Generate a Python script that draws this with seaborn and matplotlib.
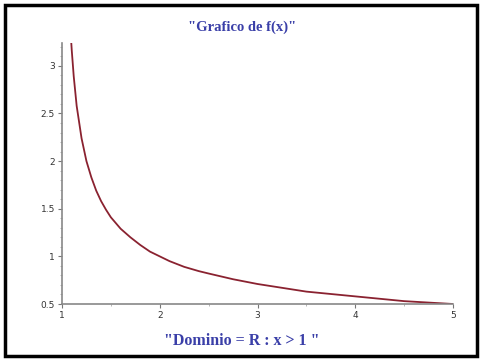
import matplotlib
matplotlib.use("Agg")
import matplotlib.pyplot as plt
import seaborn as sns
import pandas as pd
from matplotlib.patches import Rectangle
from matplotlib.ticker import MultipleLocator

sns.set_style("white")
plt.rcParams['font.family'] = ['DejaVu Sans']

x_vals = [1.095, 1.1, 1.12, 1.15, 1.2, 1.25, 1.3, 1.35, 1.4, 1.45, 1.5, 1.55, 1.6, 1.7, 1.8,
          1.9, 2.0, 2.1, 2.25, 2.4, 2.5, 2.75, 3.0, 3.25, 3.5, 3.75, 4.0, 4.25, 4.5, 4.75, 5.0]
y_vals = [3.24, 3.16, 2.89, 2.58, 2.24, 2.0, 1.83, 1.69, 1.58, 1.49, 1.41, 1.35, 1.29, 1.2, 1.12,
          1.05, 1.0, 0.95, 0.89, 0.845, 0.82, 0.76, 0.71, 0.67, 0.63, 0.605, 0.58, 0.555, 0.53, 0.515, 0.5]
x_ticks = [1, 2, 3, 4, 5]
y_ticks = [0.5, 1, 1.5, 2, 2.5, 3]
y_tick_labels = ["0.5", "1", "1.5", "2", "2.5", "3"]
title_text = '"Grafico de f(x)"'
xlabel_text = '"Dominio = R : x > 1 "'

df = pd.DataFrame({"x": x_vals, "y": y_vals})

fig = plt.figure(figsize=(4.82, 3.6), dpi=100)
ax = fig.add_axes([62/482, 1-304/360, (453-62)/482, (304-43)/360])
sns.lineplot(data=df, x="x", y="y", ax=ax, color="#8a2230", linewidth=1.3, sort=False)

ax.set_xlim(1, 5)
ax.set_ylim(0.5, 3.24)
ax.set_xticks(x_ticks)
ax.set_xticklabels([str(t) for t in x_ticks])
ax.set_yticks(y_ticks)
ax.set_yticklabels(y_tick_labels)
ax.xaxis.set_minor_locator(MultipleLocator(0.5))
ax.yaxis.set_minor_locator(MultipleLocator(0.1))
ax.tick_params(axis='both', which='major', labelsize=6.5, colors="#777777", labelcolor="#333333",
               length=3, width=0.8, direction='out', pad=2, left=True, bottom=True)
ax.tick_params(axis='both', which='minor', colors="#aaaaaa", length=1.5, width=0.6,
               direction='out', left=True, bottom=True)
ax.set_xlabel("")
ax.set_ylabel("")
for s in ["top", "right"]:
    ax.spines[s].set_visible(False)
for s in ["left", "bottom"]:
    ax.spines[s].set_color("#888888")
    ax.spines[s].set_linewidth(1.2)

fig.text(242/482, 1-27/360, title_text, ha='center', va='center', color="#3a3fa8",
         fontsize=10.5, fontweight='bold', family=['Liberation Serif', 'DejaVu Serif'])
fig.text(242/482, 1-341/360, xlabel_text, ha='center', va='center', color="#3a3fa8",
         fontsize=11.5, fontweight='bold', family=['Liberation Serif', 'DejaVu Serif'])

fig.patches.append(Rectangle((5/482, 4/360), 472/482, 351/360, transform=fig.transFigure,
                             fill=False, edgecolor='black', linewidth=2.5))

fig.savefig("out.png", dpi=100)
